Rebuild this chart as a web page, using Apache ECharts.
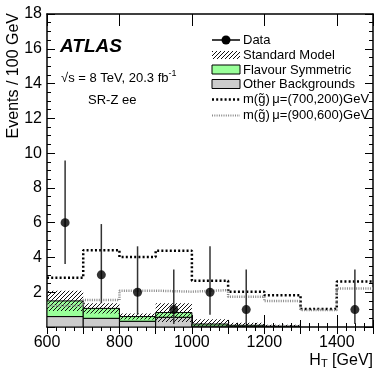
<!DOCTYPE html>
<html><head><meta charset="utf-8">
<script src="https://cdn.jsdelivr.net/npm/echarts@6/dist/echarts.min.js"></script>
<style>html,body{margin:0;padding:0;background:#fff}#c{width:390px;height:375px}</style>
</head><body><div id="c"></div>
<script>
// ---- data ----
const binLow  = [600,700,800,900,1000,1100,1200,1300,1400];
const binHigh = [700,800,900,1000,1100,1200,1300,1400,1500];
const otherBkg   = [0.60,0.50,0.33,0.56,0.05,0.03,0.02,0,0];
const flavourSym = [0.90,0.57,0.27,0.27,0.12,0.07,0.03,0,0];
const smUnc      = [0.58,0.29,0.17,0.54,0.27,0.15,0.08,0,0];
const sig700 = [2.83,4.42,4.02,4.39,2.66,2.03,1.82,1.04,2.62];
const sig900 = [1.22,1.55,2.09,2.03,2.12,1.74,1.49,0.98,2.22];
const dataX  = [650,750,850,950,1050,1150,1450];
const dataY  = [6,3,2,1,2,1,1];
const errLo  = [3.62,1.37,0.71,0.17,0.71,0.17,0.17];
const errHi  = [9.58,5.92,4.64,3.30,4.64,3.30,3.30];
const xTickLabels = [600,800,1000,1200,1400];
const yTickLabels = [2,4,6,8,10,12,14,16,18];

const FONT = 'Liberation Sans';
function hatchCanvas(){
  const c=document.createElement('canvas'); c.width=4; c.height=4;
  const g=c.getContext('2d'); g.strokeStyle='#111'; g.lineWidth=1;
  g.beginPath();
  g.moveTo(0,4); g.lineTo(4,0);
  g.moveTo(-1,1); g.lineTo(1,-1);
  g.moveTo(3,5); g.lineTo(5,3);
  g.stroke(); return c;
}
const hatch = {image: hatchCanvas(), repeat: 'repeat'};

const tot = otherBkg.map((o,i)=>o+flavourSym[i]);
const otherData = binLow.map((lo,i)=>[lo,binHigh[i],0,otherBkg[i]]);
const fsData = binLow.map((lo,i)=>[lo,binHigh[i],otherBkg[i],tot[i]]);
const uncData = binLow.map((lo,i)=>[lo,binHigh[i],Math.max(0,tot[i]-smUnc[i]),tot[i]+smUnc[i]]);
const stepData = arr => binLow.map((lo,i)=>[lo,arr[i]]).concat([[binHigh[binHigh.length-1],arr[arr.length-1]]]);

function rectRender(fill, stroke){
  return function(params, api){
    const y0=api.value(2), y1=api.value(3);
    if (y1-y0 <= 0) return;
    const p0=api.coord([api.value(0),y1]), p1=api.coord([api.value(1),y0]);
    return {type:'rect', shape:{x:p0[0],y:p0[1],width:p1[0]-p0[0],height:p1[1]-p0[1]},
      style:{fill:fill, stroke:stroke, lineWidth:stroke?1:0}};
  };
}

const axisBase = (pos) => ({
  type:'value', min:600, max:1500, position:pos,
  axisLine:{show:true, onZero:false, lineStyle:{color:'#000', width:1.5}},
  splitLine:{show:false}
});
const xAxes = [
  Object.assign(axisBase('bottom'), {interval:200,
    axisTick:{inside:true, length:12, lineStyle:{color:'#000'}},
    axisLabel:{show:true, showMaxLabel:false, margin:8, color:'#000', fontSize:16, fontFamily:FONT,
      formatter: v => xTickLabels.includes(v) ? String(v) : ''}}),
  Object.assign(axisBase('bottom'), {interval:100, axisLine:{show:false},
    axisTick:{inside:true, length:7, lineStyle:{color:'#000'}},
    minorTick:{show:true, splitNumber:4, length:4, lineStyle:{color:'#000'}},
    axisLabel:{show:false}}),
  Object.assign(axisBase('top'), {interval:200,
    axisTick:{inside:true, length:12, lineStyle:{color:'#000'}}, axisLabel:{show:false}}),
  Object.assign(axisBase('top'), {interval:100, axisLine:{show:false},
    axisTick:{inside:true, length:7, lineStyle:{color:'#000'}},
    minorTick:{show:true, splitNumber:4, length:4, lineStyle:{color:'#000'}},
    axisLabel:{show:false}})
];
const yBase = (pos, labels) => ({
  type:'value', min:0, max:18, interval:2, position:pos,
  axisLine:{show:true, onZero:false, lineStyle:{color:'#000', width:1.5}},
  axisTick:{inside:true, length:8, lineStyle:{color:'#000'}},
  minorTick:{show:true, splitNumber:4, length:4, lineStyle:{color:'#000'}},
  splitLine:{show:false},
  axisLabel: labels ? {show:true, showMinLabel:false, margin:5, color:'#000', fontSize:16, fontFamily:FONT,
    formatter: v => yTickLabels.includes(v) ? String(v) : ''} : {show:false}
});

const legendX = 212, legendW = 28, textX = 243;
const option = {
  animation:false,
  grid:{left:47, right:17, top:14, bottom:48, containLabel:false},
  xAxis: xAxes,
  yAxis: [yBase('left', true), yBase('right', false)],
  series: [
    {type:'custom', name:'Other Backgrounds', xAxisIndex:0, yAxisIndex:0, clip:true, z:2,
      renderItem: rectRender('#cccccc', '#000'), data: otherData},
    {type:'custom', name:'Flavour Symmetric', xAxisIndex:0, yAxisIndex:0, clip:true, z:3,
      renderItem: rectRender('#99ff99', '#000'), data: fsData},
    {type:'custom', name:'Standard Model', xAxisIndex:0, yAxisIndex:0, clip:true, z:4,
      renderItem: rectRender(hatch, null), data: uncData},
    {type:'line', name:'m700', xAxisIndex:0, yAxisIndex:0, step:'end', symbol:'none', z:5,
      lineStyle:{color:'#000', width:2.5, type:[2,2.2], cap:'butt'}, data: stepData(sig700)},
    {type:'line', name:'m900', xAxisIndex:0, yAxisIndex:0, step:'end', symbol:'none', z:5,
      lineStyle:{color:'#888', width:2.5, type:[1,1.3], cap:'butt'}, data: stepData(sig900)},
    {type:'custom', name:'err', xAxisIndex:0, yAxisIndex:0, z:6,
      renderItem: function(params, api){
        const a=api.coord([api.value(0),api.value(1)]), b=api.coord([api.value(0),api.value(2)]);
        return {type:'line', shape:{x1:a[0],y1:a[1],x2:b[0],y2:b[1]}, style:{stroke:'#333', lineWidth:1.5}};
      },
      data: dataX.map((x,i)=>[x,errLo[i],errHi[i]])},
    {type:'scatter', name:'Data', xAxisIndex:0, yAxisIndex:0, z:7, symbol:'circle', symbolSize:9,
      itemStyle:{color:'#000'}, data: dataX.map((x,i)=>[x,dataY[i]])}
  ],
  graphic: [
    {type:'text', x:60, y:47, style:{text:'ATLAS', font:'italic bold 19px "'+FONT+'"', fill:'#000', verticalAlign:'middle'}},
    {type:'text', x:61, y:78, style:{text:'√s = 8 TeV, 20.3 fb{sup|-1}', fill:'#000', verticalAlign:'middle',
      font:'13px "'+FONT+'"', rich:{sup:{fontSize:9, fontFamily:FONT, verticalAlign:'top', padding:[0,0,8,0]}}}},
    {type:'text', x:88, y:100, style:{text:'SR-Z ee', font:'13px "'+FONT+'"', fill:'#000', verticalAlign:'middle'}},
    // legend
    {type:'line', shape:{x1:legendX,y1:40,x2:legendX+legendW,y2:40}, style:{stroke:'#000', lineWidth:1.5}},
    {type:'circle', shape:{cx:legendX+legendW/2, cy:40, r:4.5}, style:{fill:'#000'}},
    {type:'text', x:textX, y:40, style:{text:'Data', font:'13px "'+FONT+'"', fill:'#000', verticalAlign:'middle'}},
    {type:'rect', shape:{x:legendX,y:51,width:legendW,height:8}, style:{fill:hatch}},
    {type:'text', x:textX, y:55, style:{text:'Standard Model', font:'13px "'+FONT+'"', fill:'#000', verticalAlign:'middle'}},
    {type:'rect', shape:{x:legendX,y:65,width:legendW,height:9}, style:{fill:'#99ff99', stroke:'#000', lineWidth:1}},
    {type:'text', x:textX, y:70, style:{text:'Flavour Symmetric', font:'13px "'+FONT+'"', fill:'#000', verticalAlign:'middle'}},
    {type:'rect', shape:{x:legendX,y:79.5,width:legendW,height:9}, style:{fill:'#cccccc', stroke:'#000', lineWidth:1}},
    {type:'text', x:textX, y:84.5, style:{text:'Other Backgrounds', font:'13px "'+FONT+'"', fill:'#000', verticalAlign:'middle'}},
    {type:'line', shape:{x1:legendX,y1:99.5,x2:legendX+legendW,y2:99.5}, style:{stroke:'#000', lineWidth:2.5, lineDash:[2,2.2]}},
    {type:'text', x:textX, y:99.5, style:{text:'m(g̃)\u2009μ=(700,200)GeV', font:'13px "'+FONT+'"', fill:'#000', verticalAlign:'middle'}},
    {type:'line', shape:{x1:legendX,y1:115.5,x2:legendX+legendW,y2:115.5}, style:{stroke:'#888', lineWidth:2, lineDash:[1,1.3]}},
    {type:'text', x:textX, y:115.5, style:{text:'m(g̃)\u2009μ=(900,600)GeV', font:'13px "'+FONT+'"', fill:'#000', verticalAlign:'middle'}},
    // axis titles
    {type:'text', x:14, y:13, rotation:Math.PI/2, style:{text:'Events / 100 GeV', font:'16px "'+FONT+'"', fill:'#000', align:'right', verticalAlign:'middle'}},
    {type:'text', x:373, y:361, style:{text:'H{sub|T} [GeV]', font:'16px "'+FONT+'"', fill:'#000', align:'right', verticalAlign:'middle',
      rich:{sub:{fontSize:11, fontFamily:FONT, verticalAlign:'bottom', padding:[6,0,0,0]}}}}
  ]
};
const chart = echarts.init(document.getElementById('c'), null, {renderer:'canvas'});
chart.setOption(option);
</script></body></html>
